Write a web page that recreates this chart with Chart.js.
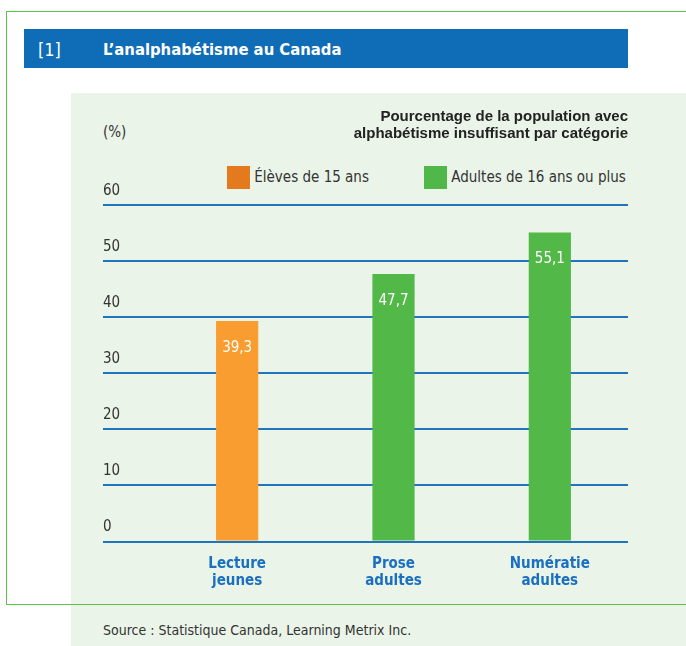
<!DOCTYPE html>
<html>
<head>
<meta charset="utf-8">
<script src="https://cdn.jsdelivr.net/npm/chart.js@4/dist/chart.umd.min.js"></script>
<style>
  body { margin: 0; width: 686px; height: 646px; background: #fff; position: relative; overflow: hidden;
         font-family: 'Liberation Sans Narrow', 'DejaVu Sans Condensed', sans-serif; color: #333; }
  .frame { position: absolute; left: 6px; top: 11px; width: 700px; height: 592px; border: 1.5px solid #5cc24c; }
  .head { position: absolute; left: 24px; top: 29px; width: 604px; height: 39px; background: #0f6cb6; color: #fff; }
  .head .num { position: absolute; left: 14px; top: 10px; font-size: 18px; }
  .head .ttl { position: absolute; left: 79px; top: 11px; font-size: 16.5px; font-weight: bold; }
  .panel { position: absolute; left: 71px; top: 93px; width: 620px; height: 560px; background: #eaf4e8; }
  .unit { position: absolute; left: 103px; top: 123px; font-size: 15px; }
  .legend { position: absolute; top: 166px; font-size: 15px; }
  .legend span.box { display: inline-block; width: 23px; height: 23px; vertical-align: middle; }
  .source { position: absolute; left: 103px; top: 622px; font-size: 14px; }
  #wrap { position: absolute; left: 103px; top: 100px; width: 525px; height: 496px; }
</style>
</head>
<body>
<div class="panel"></div>
<div class="frame"></div>
<div class="head"><span class="num">[1]</span><span class="ttl">L’analphabétisme au Canada</span></div>
<div class="unit">(%)</div>
<div id="legend"></div>
<div id="wrap"><canvas id="litChart"></canvas></div>
<div class="source">Source : Statistique Canada, Learning Metrix Inc.</div>
<script>
// categories and values
const categories = [['Lecture', 'jeunes'], ['Prose', 'adultes'], ['Numératie', 'adultes']];
const seriesLabels = ['Élèves de 15 ans', 'Adultes de 16 ans ou plus'];
const eleves = [39.3, null, null];
const adultes = [null, 47.7, 55.1];
const yTicks = [0, 10, 20, 30, 40, 50, 60];

const barColors = ['#f99d31', '#52b848'];
const legendColors = ['#e37b1e', '#50b848'];

// legend boxes (html, spacing too wide for the built-in one)
const legendEl = document.getElementById('legend');
const legendPos = [227, 424];
seriesLabels.forEach((label, i) => {
    const d = document.createElement('div');
    d.className = 'legend';
    d.style.left = legendPos[i] + 'px';
    d.innerHTML = '<span class="box" style="background:' + legendColors[i] + '"></span> ' + label;
    legendEl.appendChild(d);
});

// white value labels inside the top of each bar
const valueLabels = {
    id: 'valueLabels',
    afterDatasetsDraw(chart) {
        const ctx = chart.ctx;
        ctx.save();
        ctx.fillStyle = '#fff';
        ctx.font = "15px 'Liberation Sans Narrow', 'DejaVu Sans Condensed', sans-serif";
        ctx.textAlign = 'center';
        ctx.textBaseline = 'middle';
        chart.data.datasets.forEach((ds, di) => {
            chart.getDatasetMeta(di).data.forEach((bar, i) => {
                if (ds.data[i] == null) return;
                ctx.fillText(ds.data[i].toFixed(1).replace('.', ','), bar.x, bar.y + 27);
            });
        });
        ctx.restore();
    }
};

const ctx = document.getElementById('litChart').getContext('2d');
const litChart = new Chart(ctx, {
    type: 'bar',
    data: {
        labels: categories,
        datasets: [
            { label: seriesLabels[0], data: eleves, backgroundColor: barColors[0] },
            { label: seriesLabels[1], data: adultes, backgroundColor: barColors[1] }
        ]
    },
    options: {
        responsive: true,
        maintainAspectRatio: false,
        animation: false,
        skipNull: true,
        barPercentage: 0.27,
        categoryPercentage: 1,
        layout: { padding: { top: 0, left: 0, right: 0, bottom: 0 } },
        font: { family: "'Liberation Sans Narrow', 'DejaVu Sans Condensed', sans-serif" },
        plugins: {
            legend: { display: false },
            tooltip: { enabled: false },
            title: {
                display: true,
                align: 'end',
                text: ['Pourcentage de la population avec', 'alphabétisme insuffisant par catégorie'],
                color: '#222',
                font: { size: 15, weight: 'bold', lineHeight: 1.1 },
                padding: { top: 9, bottom: 63 }
            }
        },
        scales: {
            x: {
                grid: { display: false },
                border: { display: false },
                ticks: {
                    color: '#1a6fc0',
                    font: { size: 15, weight: 'bold', lineHeight: 1.15 },
                    padding: 6
                }
            },
            y: {
                min: 0,
                max: 60,
                afterBuildTicks: (scale) => { scale.ticks = yTicks.map(v => ({ value: v })); },
                afterFit: (scale) => { scale.width = 56; },
                grid: { color: '#1f74c0', lineWidth: 2, tickLength: 56 },
                border: { display: false },
                ticks: {
                    color: '#333',
                    font: { size: 15 },
                    crossAlign: 'far',
                    padding: 0,
                    labelOffset: -14
                }
            }
        }
    },
    plugins: [valueLabels]
});
</script>
</body>
</html>
